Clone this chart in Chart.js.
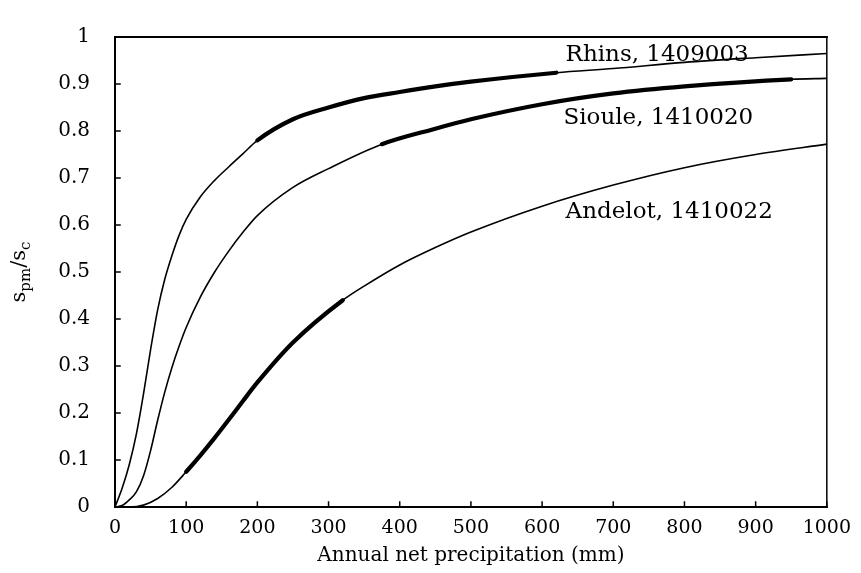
<!DOCTYPE html>
<html><head><meta charset="utf-8">
<script src="https://cdn.jsdelivr.net/npm/chart.js@4/dist/chart.umd.min.js"></script>
<style>html,body{margin:0;padding:0;background:#fff}#wrap{width:861px;height:573px}</style>
</head><body><div id="wrap"><canvas id="c" width="861" height="573"></canvas></div>
<script>
// ---- data ----
const seriesNames = ['Rhins, 1409003', 'Sioule, 1410020', 'Andelot, 1410022'];

const rhinsX = [0,10,20,30,40,50,60,70,80,90,100,120,140,160,180,200,250,300,350,400,450,500,620,700,800,900,1000];
const rhinsY = [0,0.04,0.09,0.155,0.24,0.335,0.42,0.485,0.535,0.578,0.612,0.66,0.695,0.724,0.752,0.78,0.825,0.85,0.87,0.883,0.895,0.905,0.924,0.933,0.946,0.956,0.965];

const siouleX = [0,10,20,30,40,50,60,70,80,90,100,120,140,160,180,200,250,300,375,450,500,600,700,800,950,1000];
const siouleY = [0,0.003,0.015,0.032,0.066,0.12,0.185,0.245,0.297,0.342,0.382,0.447,0.5,0.545,0.585,0.62,0.68,0.72,0.772,0.805,0.825,0.857,0.88,0.895,0.91,0.912];

const andelotX = [0,20,40,60,80,100,120,140,160,180,200,250,320,350,400,450,500,600,700,800,900,1000];
const andelotY = [0,0,0.004,0.018,0.042,0.075,0.11,0.147,0.186,0.226,0.265,0.35,0.44,0.47,0.515,0.552,0.585,0.64,0.685,0.722,0.75,0.772];

// range of each curve drawn with the heavy stroke (observed range)
const rhinsHeavy = [200, 620];
const siouleHeavy = [375, 950];
const andelotHeavy = [100, 320];

const xTickLabels = ['0','100','200','300','400','500','600','700','800','900','1000'];
const yTickLabels = ['0','0.1','0.2','0.3','0.4','0.5','0.6','0.7','0.8','0.9','1'];

const xTitle = 'Annual net precipitation (mm)';

// ---- styling / layout (not data) ----
const FONT = '"DejaVu Serif", "Liberation Serif", serif';
const labelAnchors = [ {x: 633, y: 0.948}, {x: 630, y: 0.814}, {x: 633, y: 0.614} ];

function pts(xs, ys){ return xs.map((x,i)=>({x:x, y:ys[i]})); }
function heavySeg(range){
  return ctx => (ctx.p0.parsed.x >= range[0] && ctx.p1.parsed.x <= range[1]) ? 4.2 : 1.6;
}
function ds(name, xs, ys, heavy){
  return {
    label: name, data: pts(xs, ys),
    borderColor: '#000', backgroundColor: '#000', borderWidth: 1.6,
    pointRadius: 0, cubicInterpolationMode: 'monotone', fill: false,
    borderCapStyle: 'round', borderJoinStyle: 'round',
    segment: { borderWidth: heavySeg(heavy) }
  };
}

const framePlugin = {
  id: 'frame',
  afterDatasetsDraw(chart){
    const {ctx, chartArea: a, scales: {x, y}} = chart;
    ctx.save();
    ctx.strokeStyle = '#000';
    ctx.lineCap = 'square';
    ctx.lineWidth = 2;
    ctx.beginPath();
    ctx.moveTo(a.left, a.top); ctx.lineTo(a.right, a.top);
    ctx.moveTo(a.left, a.top); ctx.lineTo(a.left, a.bottom); ctx.lineTo(a.right, a.bottom);
    ctx.stroke();
    ctx.lineWidth = 1.5;
    ctx.beginPath(); ctx.moveTo(a.right, a.top); ctx.lineTo(a.right, a.bottom); ctx.stroke();
    // inward ticks
    ctx.lineWidth = 1.5;
    ctx.beginPath();
    x.ticks.forEach((t,i)=>{ const px = x.getPixelForTick(i); ctx.moveTo(px, a.bottom); ctx.lineTo(px, a.bottom-5); });
    y.ticks.forEach((t,i)=>{ const py = y.getPixelForTick(i); ctx.moveTo(a.left, py); ctx.lineTo(a.left+5, py); });
    ctx.stroke();
    // series labels
    ctx.fillStyle = '#000';
    ctx.font = '23px ' + FONT;
    ctx.textAlign = 'left'; ctx.textBaseline = 'alphabetic';
    seriesNames.forEach((n,i)=>{
      ctx.fillText(n, x.getPixelForValue(labelAnchors[i].x), y.getPixelForValue(labelAnchors[i].y));
    });
    ctx.restore();
  }
};

const yTitlePlugin = {
  id: 'ytitle',
  afterDraw(chart){
    const {ctx, chartArea: a} = chart;
    const big = '21px ' + FONT, small = '15px ' + FONT;
    const parts = [ ['s', big, 0], ['pm', small, 5], ['/s', big, 0], ['c', small, 5] ];
    ctx.save();
    let total = 0;
    parts.forEach(p => { ctx.font = p[1]; total += ctx.measureText(p[0]).width; });
    ctx.translate(25, (a.top + a.bottom)/2);
    ctx.rotate(-Math.PI/2);
    ctx.fillStyle = '#000';
    ctx.textBaseline = 'alphabetic'; ctx.textAlign = 'left';
    let cx = -total/2;
    parts.forEach(p => { ctx.font = p[1]; ctx.fillText(p[0], cx, p[2]); cx += ctx.measureText(p[0]).width; });
    ctx.restore();
  }
};

new Chart(document.getElementById('c'), {
  type: 'line',
  data: { datasets: [
    ds(seriesNames[0], rhinsX, rhinsY, rhinsHeavy),
    ds(seriesNames[1], siouleX, siouleY, siouleHeavy),
    ds(seriesNames[2], andelotX, andelotY, andelotHeavy)
  ]},
  options: {
    responsive: false, animation: false, devicePixelRatio: 1,
    layout: { padding: { top: 28, right: 32, left: 0, bottom: 0 } },
    plugins: { legend: { display: false }, tooltip: { enabled: false } },
    scales: {
      x: {
        type: 'linear', min: 0, max: 1000,
        grid: { display: false, drawTicks: false }, border: { display: false },
        ticks: { stepSize: 100, padding: 10, color: '#000', font: { family: FONT, size: 19 },
          maxRotation: 0, autoSkip: false,
          callback: (v, i) => xTickLabels[i] },
        title: { display: true, text: xTitle, color: '#000', font: { family: FONT, size: 20 }, padding: { top: 0, bottom: 5 } },
        afterFit: s => { s.height = 66; }
      },
      y: {
        type: 'linear', min: 0, max: 1,
        grid: { display: false, drawTicks: false }, border: { display: false },
        ticks: { stepSize: 0.1, padding: 25, color: '#000', font: { family: FONT, size: 20 },
          autoSkip: false, callback: (v, i) => yTickLabels[i] },
        afterFit: s => { s.width = 115; }
      }
    }
  },
  plugins: [framePlugin, yTitlePlugin]
});
</script>
</body></html>
